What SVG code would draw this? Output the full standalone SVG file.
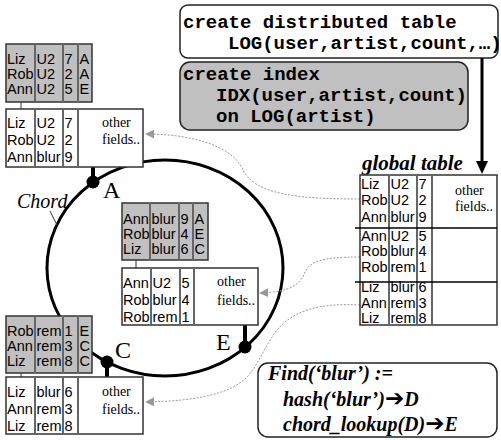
<svg xmlns="http://www.w3.org/2000/svg" width="501" height="440" viewBox="0 0 501 440">
  <defs>
    <style>
      .cell{font-family:"Liberation Sans",Arial,sans-serif;font-size:14.5px;fill:#000}
      .note{font-family:"Liberation Serif","Times New Roman",serif;font-size:14px;fill:#000}
      .code{font-family:"Liberation Mono","Courier New",monospace;font-size:19px;font-weight:bold;fill:#000}
      .lbl{font-family:"Liberation Serif","Times New Roman",serif;font-size:24px;fill:#000}
      .idx{fill:#c0c0c0;stroke:#333;stroke-width:1.5}
      .dat{fill:#fff;stroke:#333;stroke-width:1.5}
      .col{stroke:#666;stroke-width:2}
      .ring{fill:none;stroke:#000;stroke-width:3}
      .stub{stroke:#000;stroke-width:4}
      .tie{stroke:#333;stroke-width:1}
      .ref{fill:none;stroke:#999;stroke-width:1;stroke-dasharray:2 1.5}
      .arw{font-family:"DejaVu Sans",sans-serif;font-style:normal;font-weight:bold;font-size:23px}
    </style>
    <marker id="refHead" viewBox="0 0 10 10" refX="9" refY="5" markerWidth="9" markerHeight="9" markerUnits="userSpaceOnUse" orient="auto">
      <path d="M0,0 L10,5 L0,10 Z" fill="#999"/>
    </marker>
  </defs>
  <rect width="501" height="440" fill="#fff"/>

  <!-- Chord ring -->
  <g id="ring">
    <ellipse class="ring" cx="165" cy="268" rx="118" ry="108"/>
    <text x="17" y="208" style="font-family:'Liberation Serif','Times New Roman',serif;font-size:20px;font-style:italic">Chord</text>
    <line class="tie" x1="50" y1="211" x2="57" y2="225"/>
  </g>

  <!-- SQL commands -->
  <g id="cmd-create-table">
    <rect x="180" y="5" width="318" height="53" rx="8" fill="#fff" stroke="#222" stroke-width="1.5"/>
    <text class="code" x="183" y="28">create distributed table</text>
    <text class="code" x="228" y="49">LOG(user,artist,count,…)</text>
  </g>
  <g id="cmd-create-index">
    <rect x="180" y="62" width="288" height="68" rx="10" fill="#c0c0c0" stroke="#222" stroke-width="1.5"/>
    <text class="code" x="183" y="80">create index</text>
    <text class="code" x="216" y="101">IDX(user,artist,count)</text>
    <text class="code" x="216" y="122">on LOG(artist)</text>
  </g>

  <!-- Connectors -->
  <g id="connectors">
    <line x1="482" y1="58" x2="482" y2="163" stroke="#000" stroke-width="3"/>
    <polygon points="476,161 488,161 482,174" fill="#000"/>
    <path class="ref" marker-end="url(#refHead)" d="M360,199 C300,199 255,195 243,170 C232,145 190,134 146,134"/>
    <path class="ref" marker-end="url(#refHead)" d="M360,257 C320,257 310,262 305,272 C300,285 290,292 260,293"/>
    <path class="ref" marker-end="url(#refHead)" d="M360,305 C320,303 300,310 285,322 C268,336 262,360 248,376 C232,393 200,401 146,402"/>
    <line class="stub" x1="93" y1="167" x2="93" y2="182"/>
    <line class="stub" x1="245" y1="325" x2="245" y2="347"/>
    <line class="stub" x1="107" y1="362" x2="107" y2="377"/>
    <line class="tie" x1="21" y1="102" x2="21" y2="109"/>
    <line class="tie" x1="136" y1="260" x2="136" y2="268"/>
    <line class="tie" x1="21" y1="373" x2="21" y2="377"/>
  </g>

  <!-- Node A -->
  <g id="node-A">
    <rect class="idx" x="6" y="44" width="86" height="58"/>
    <line class="col" x1="35" y1="44" x2="35" y2="102"/>
    <line class="col" x1="63" y1="44" x2="63" y2="102"/>
    <line class="col" x1="78" y1="44" x2="78" y2="102"/>
    <text class="cell" y="63.5"><tspan x="7">Liz</tspan><tspan x="36.5">U2</tspan><tspan x="64.5">7</tspan><tspan x="79.5">A</tspan></text>
    <text class="cell" y="78.5"><tspan x="7">Rob</tspan><tspan x="36.5">U2</tspan><tspan x="64.5">2</tspan><tspan x="79.5">A</tspan></text>
    <text class="cell" y="94"><tspan x="7">Ann</tspan><tspan x="36.5">U2</tspan><tspan x="64.5">5</tspan><tspan x="79.5">E</tspan></text>
    <rect class="dat" x="6" y="109" width="137" height="58"/>
    <line class="col" x1="35" y1="109" x2="35" y2="167"/>
    <line class="col" x1="63" y1="109" x2="63" y2="167"/>
    <line class="col" x1="78" y1="109" x2="78" y2="167"/>
    <text class="cell" y="127.5"><tspan x="7">Liz</tspan><tspan x="36.5">U2</tspan><tspan x="64.5">7</tspan></text>
    <text class="cell" y="144.5"><tspan x="7">Rob</tspan><tspan x="36.5">U2</tspan><tspan x="64.5">2</tspan></text>
    <text class="cell" y="161.5"><tspan x="7">Ann</tspan><tspan x="36.5">blur</tspan><tspan x="64.5">9</tspan></text>
    <text class="note" x="102" y="126.5">other</text>
    <text class="note" x="102" y="144">fields..</text>
    <circle cx="93" cy="182" r="6.5" fill="#000"/>
    <text class="lbl" x="103" y="198">A</text>
  </g>

  <!-- Node E -->
  <g id="node-E">
    <rect class="idx" x="122" y="203" width="86" height="57"/>
    <line class="col" x1="150" y1="203" x2="150" y2="260"/>
    <line class="col" x1="179" y1="203" x2="179" y2="260"/>
    <line class="col" x1="193" y1="203" x2="193" y2="260"/>
    <text class="cell" y="223.5"><tspan x="123">Ann</tspan><tspan x="151.5">blur</tspan><tspan x="180.5">9</tspan><tspan x="194.5">A</tspan></text>
    <text class="cell" y="238.5"><tspan x="123">Rob</tspan><tspan x="151.5">blur</tspan><tspan x="180.5">4</tspan><tspan x="194.5">E</tspan></text>
    <text class="cell" y="254"><tspan x="123">Liz</tspan><tspan x="151.5">blur</tspan><tspan x="180.5">6</tspan><tspan x="194.5">C</tspan></text>
    <rect class="dat" x="122" y="268" width="136" height="57"/>
    <line class="col" x1="151" y1="268" x2="151" y2="325"/>
    <line class="col" x1="180" y1="268" x2="180" y2="325"/>
    <line class="col" x1="194" y1="268" x2="194" y2="325"/>
    <text class="cell" y="287.5"><tspan x="123">Ann</tspan><tspan x="152.5">U2</tspan><tspan x="181.5">5</tspan></text>
    <text class="cell" y="304.5"><tspan x="123">Rob</tspan><tspan x="152.5">blur</tspan><tspan x="181.5">4</tspan></text>
    <text class="cell" y="321.5"><tspan x="123">Rob</tspan><tspan x="152.5">rem</tspan><tspan x="181.5">1</tspan></text>
    <text class="note" x="217" y="286">other</text>
    <text class="note" x="217" y="305">fields..</text>
    <circle cx="245" cy="347" r="6.5" fill="#000"/>
    <text class="lbl" x="216" y="350">E</text>
  </g>

  <!-- Node C -->
  <g id="node-C">
    <rect class="idx" x="6" y="316" width="86" height="57"/>
    <line class="col" x1="35" y1="316" x2="35" y2="373"/>
    <line class="col" x1="63" y1="316" x2="63" y2="373"/>
    <line class="col" x1="78" y1="316" x2="78" y2="373"/>
    <text class="cell" y="335.5"><tspan x="7">Rob</tspan><tspan x="36.5">rem</tspan><tspan x="64.5">1</tspan><tspan x="79.5">E</tspan></text>
    <text class="cell" y="350.5"><tspan x="7">Ann</tspan><tspan x="36.5">rem</tspan><tspan x="64.5">3</tspan><tspan x="79.5">C</tspan></text>
    <text class="cell" y="366"><tspan x="7">Liz</tspan><tspan x="36.5">rem</tspan><tspan x="64.5">8</tspan><tspan x="79.5">C</tspan></text>
    <rect class="dat" x="6" y="377" width="137" height="57"/>
    <line class="col" x1="35" y1="377" x2="35" y2="434"/>
    <line class="col" x1="63" y1="377" x2="63" y2="434"/>
    <line class="col" x1="78" y1="377" x2="78" y2="434"/>
    <text class="cell" y="396.5"><tspan x="7">Liz</tspan><tspan x="36.5">blur</tspan><tspan x="64.5">6</tspan></text>
    <text class="cell" y="413.5"><tspan x="7">Ann</tspan><tspan x="36.5">rem</tspan><tspan x="64.5">3</tspan></text>
    <text class="cell" y="430.5"><tspan x="7">Liz</tspan><tspan x="36.5">rem</tspan><tspan x="64.5">8</tspan></text>
    <text class="note" x="102" y="396">other</text>
    <text class="note" x="102" y="414">fields..</text>
    <circle cx="107" cy="362" r="6.5" fill="#000"/>
    <text class="lbl" x="115" y="358">C</text>
  </g>

  <!-- Global table -->
  <g id="global-table">
    <text x="362" y="170" style="font-family:'Liberation Serif','Times New Roman',serif;font-size:21px;font-style:italic;font-weight:bold">global table</text>
    <rect class="dat" x="360" y="175" width="137" height="150"/>
    <line class="col" x1="389" y1="175" x2="389" y2="325"/>
    <line class="col" x1="417" y1="175" x2="417" y2="325"/>
    <line class="col" x1="432" y1="175" x2="432" y2="325"/>
    <line x1="355" y1="228" x2="497" y2="228" stroke="#000" stroke-width="1.5"/>
    <line x1="355" y1="282" x2="497" y2="282" stroke="#000" stroke-width="1.5"/>
    <text class="cell" y="188.5"><tspan x="361">Liz</tspan><tspan x="390.5">U2</tspan><tspan x="418.5">7</tspan></text>
    <text class="cell" y="205"><tspan x="361">Rob</tspan><tspan x="390.5">U2</tspan><tspan x="418.5">2</tspan></text>
    <text class="cell" y="221.5"><tspan x="361">Ann</tspan><tspan x="390.5">blur</tspan><tspan x="418.5">9</tspan></text>
    <text class="cell" y="240.5"><tspan x="361">Ann</tspan><tspan x="390.5">U2</tspan><tspan x="418.5">5</tspan></text>
    <text class="cell" y="256"><tspan x="361">Rob</tspan><tspan x="390.5">blur</tspan><tspan x="418.5">4</tspan></text>
    <text class="cell" y="271.5"><tspan x="361">Rob</tspan><tspan x="390.5">rem</tspan><tspan x="418.5">1</tspan></text>
    <text class="cell" y="292"><tspan x="361">Liz</tspan><tspan x="390.5">blur</tspan><tspan x="418.5">6</tspan></text>
    <text class="cell" y="307.5"><tspan x="361">Ann</tspan><tspan x="390.5">rem</tspan><tspan x="418.5">3</tspan></text>
    <text class="cell" y="323"><tspan x="361">Liz</tspan><tspan x="390.5">rem</tspan><tspan x="418.5">8</tspan></text>
    <text class="note" x="455" y="194.5">other</text>
    <text class="note" x="455" y="211">fields..</text>
  </g>

  <!-- Lookup -->
  <g id="find-box">
    <rect x="258" y="363" width="239" height="74" rx="10" fill="#fff" stroke="#222" stroke-width="1.5"/>
    <g style="font-family:'Liberation Serif','Times New Roman',serif;font-size:20px;font-style:italic;font-weight:bold">
      <text x="268" y="380">Find(‘blur’) :=</text>
      <text x="283" y="406">hash(‘blur’)<tspan class="arw">➔</tspan>D</text>
      <text x="283" y="431">chord_lookup(D)<tspan class="arw">➔</tspan>E</text>
    </g>
  </g>
</svg>
